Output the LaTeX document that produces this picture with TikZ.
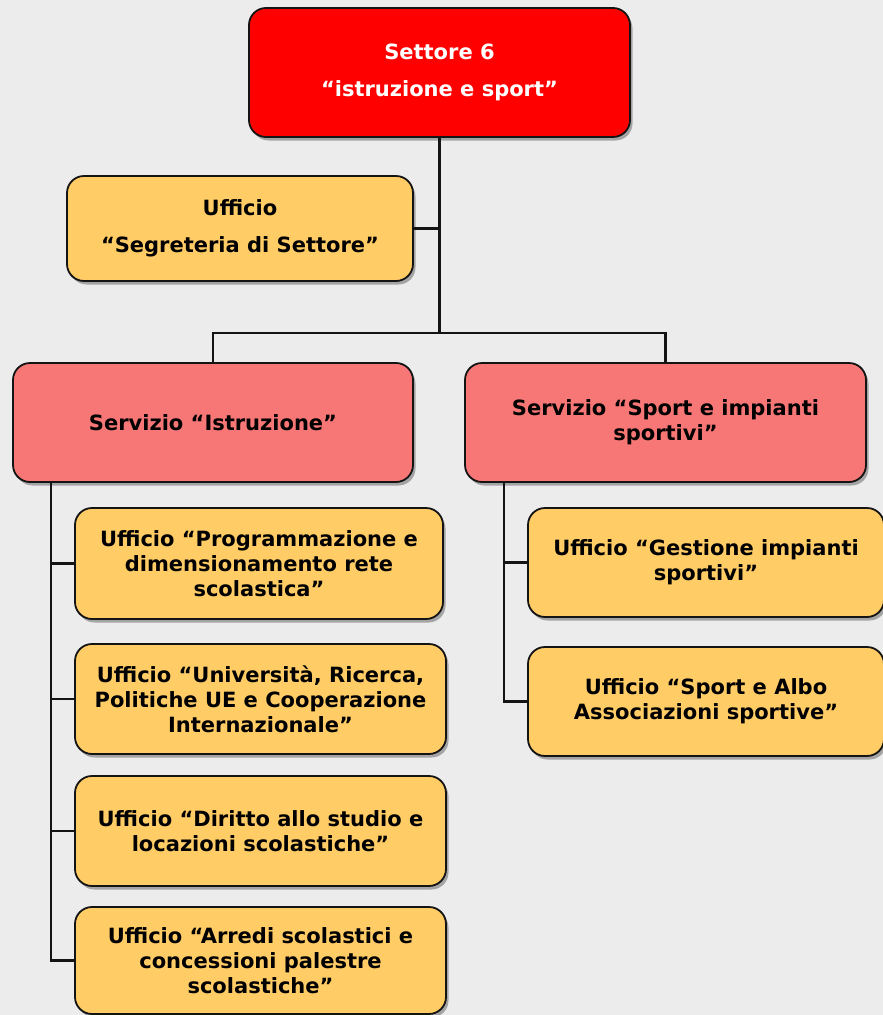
\documentclass[tikz,border=0pt]{standalone}
\usepackage{fontspec}
\setmainfont{DejaVu Sans}
\usetikzlibrary{shadows}
\definecolor{bg}{RGB}{236,236,236}
\definecolor{topred}{RGB}{255,0,0}
\definecolor{servpink}{RGB}{247,118,118}
\definecolor{uffyellow}{RGB}{255,204,102}
\definecolor{edge}{RGB}{20,20,20}
\tikzset{
  orgbox/.style={draw=edge, line width=1.8pt, rounded corners=17pt, inner sep=0pt,
    align=center, font=\fontsize{21}{25}\selectfont\bfseries,
    drop shadow={shadow xshift=2.5pt, shadow yshift=-3.5pt, opacity=0.3, fill=black}},
  topbox/.style={orgbox, fill=topred, text=white},
  servbox/.style={orgbox, fill=servpink, text=black},
  uffbox/.style={orgbox, fill=uffyellow, text=black},
  link/.style={draw=edge, line width=2.3pt}
}
\begin{document}
\begin{tikzpicture}[x=1pt, y=-1pt]
\fill[bg] (0,0) rectangle (883,1015);
\useasboundingbox (0,0) rectangle (883,1015);

\coordinate (bus) at (439.5,333);

\node[topbox, minimum width=381pt, minimum height=129pt] (top) at (439.5,72.5)
  {Settore 6\\[12pt]“istruzione e sport”};
\node[uffbox, minimum width=346pt, minimum height=105pt] (seg) at (240,228.5)
  {Ufficio\\[12pt]“Segreteria di Settore”};
\node[servbox, minimum width=400pt, minimum height=119pt] (istr) at (213,422.5)
  {Servizio “Istruzione”};
\node[servbox, minimum width=401pt, minimum height=119pt] (sport) at (665.5,422.5)
  {Servizio “Sport e impianti\\sportivi”};
\node[uffbox, minimum width=368pt, minimum height=111pt] (prog) at (259,563.5)
  {Ufficio “Programmazione e\\dimensionamento rete\\scolastica”};
\node[uffbox, minimum width=371pt, minimum height=110pt] (univ) at (260.5,699)
  {Ufficio “Università, Ricerca,\\Politiche UE e Cooperazione\\Internazionale”};
\node[uffbox, minimum width=371pt, minimum height=110pt] (dir) at (260.5,831)
  {Ufficio “Diritto allo studio e\\locazioni scolastiche”};
\node[uffbox, minimum width=371pt, minimum height=107pt] (arr) at (260.5,960.5)
  {Ufficio “Arredi scolastici e\\concessioni palestre\\scolastiche”};
\node[uffbox, minimum width=356pt, minimum height=109pt] (gest) at (706,562.5)
  {Ufficio “Gestione impianti\\sportivi”};
\node[uffbox, minimum width=356pt, minimum height=109pt] (albo) at (706,701.5)
  {Ufficio “Sport e Albo\\Associazioni sportive”};

\coordinate (is) at ([xshift=39pt]istr.south west);
\coordinate (ss) at ([xshift=40pt]sport.south west);

\draw[link] (top.south) -- (bus);
\draw[link] (seg.east) -- (seg.east -| bus);
\draw[link] (bus) -| (istr.north);
\draw[link] (bus) -| (sport.north);
\draw[link] (is) |- (prog.west);
\draw[link] (is) |- (univ.west);
\draw[link] (is) |- (dir.west);
\draw[link] (is) |- (arr.west);
\draw[link] (ss) |- (gest.west);
\draw[link] (ss) |- (albo.west);
\end{tikzpicture}
\end{document}
